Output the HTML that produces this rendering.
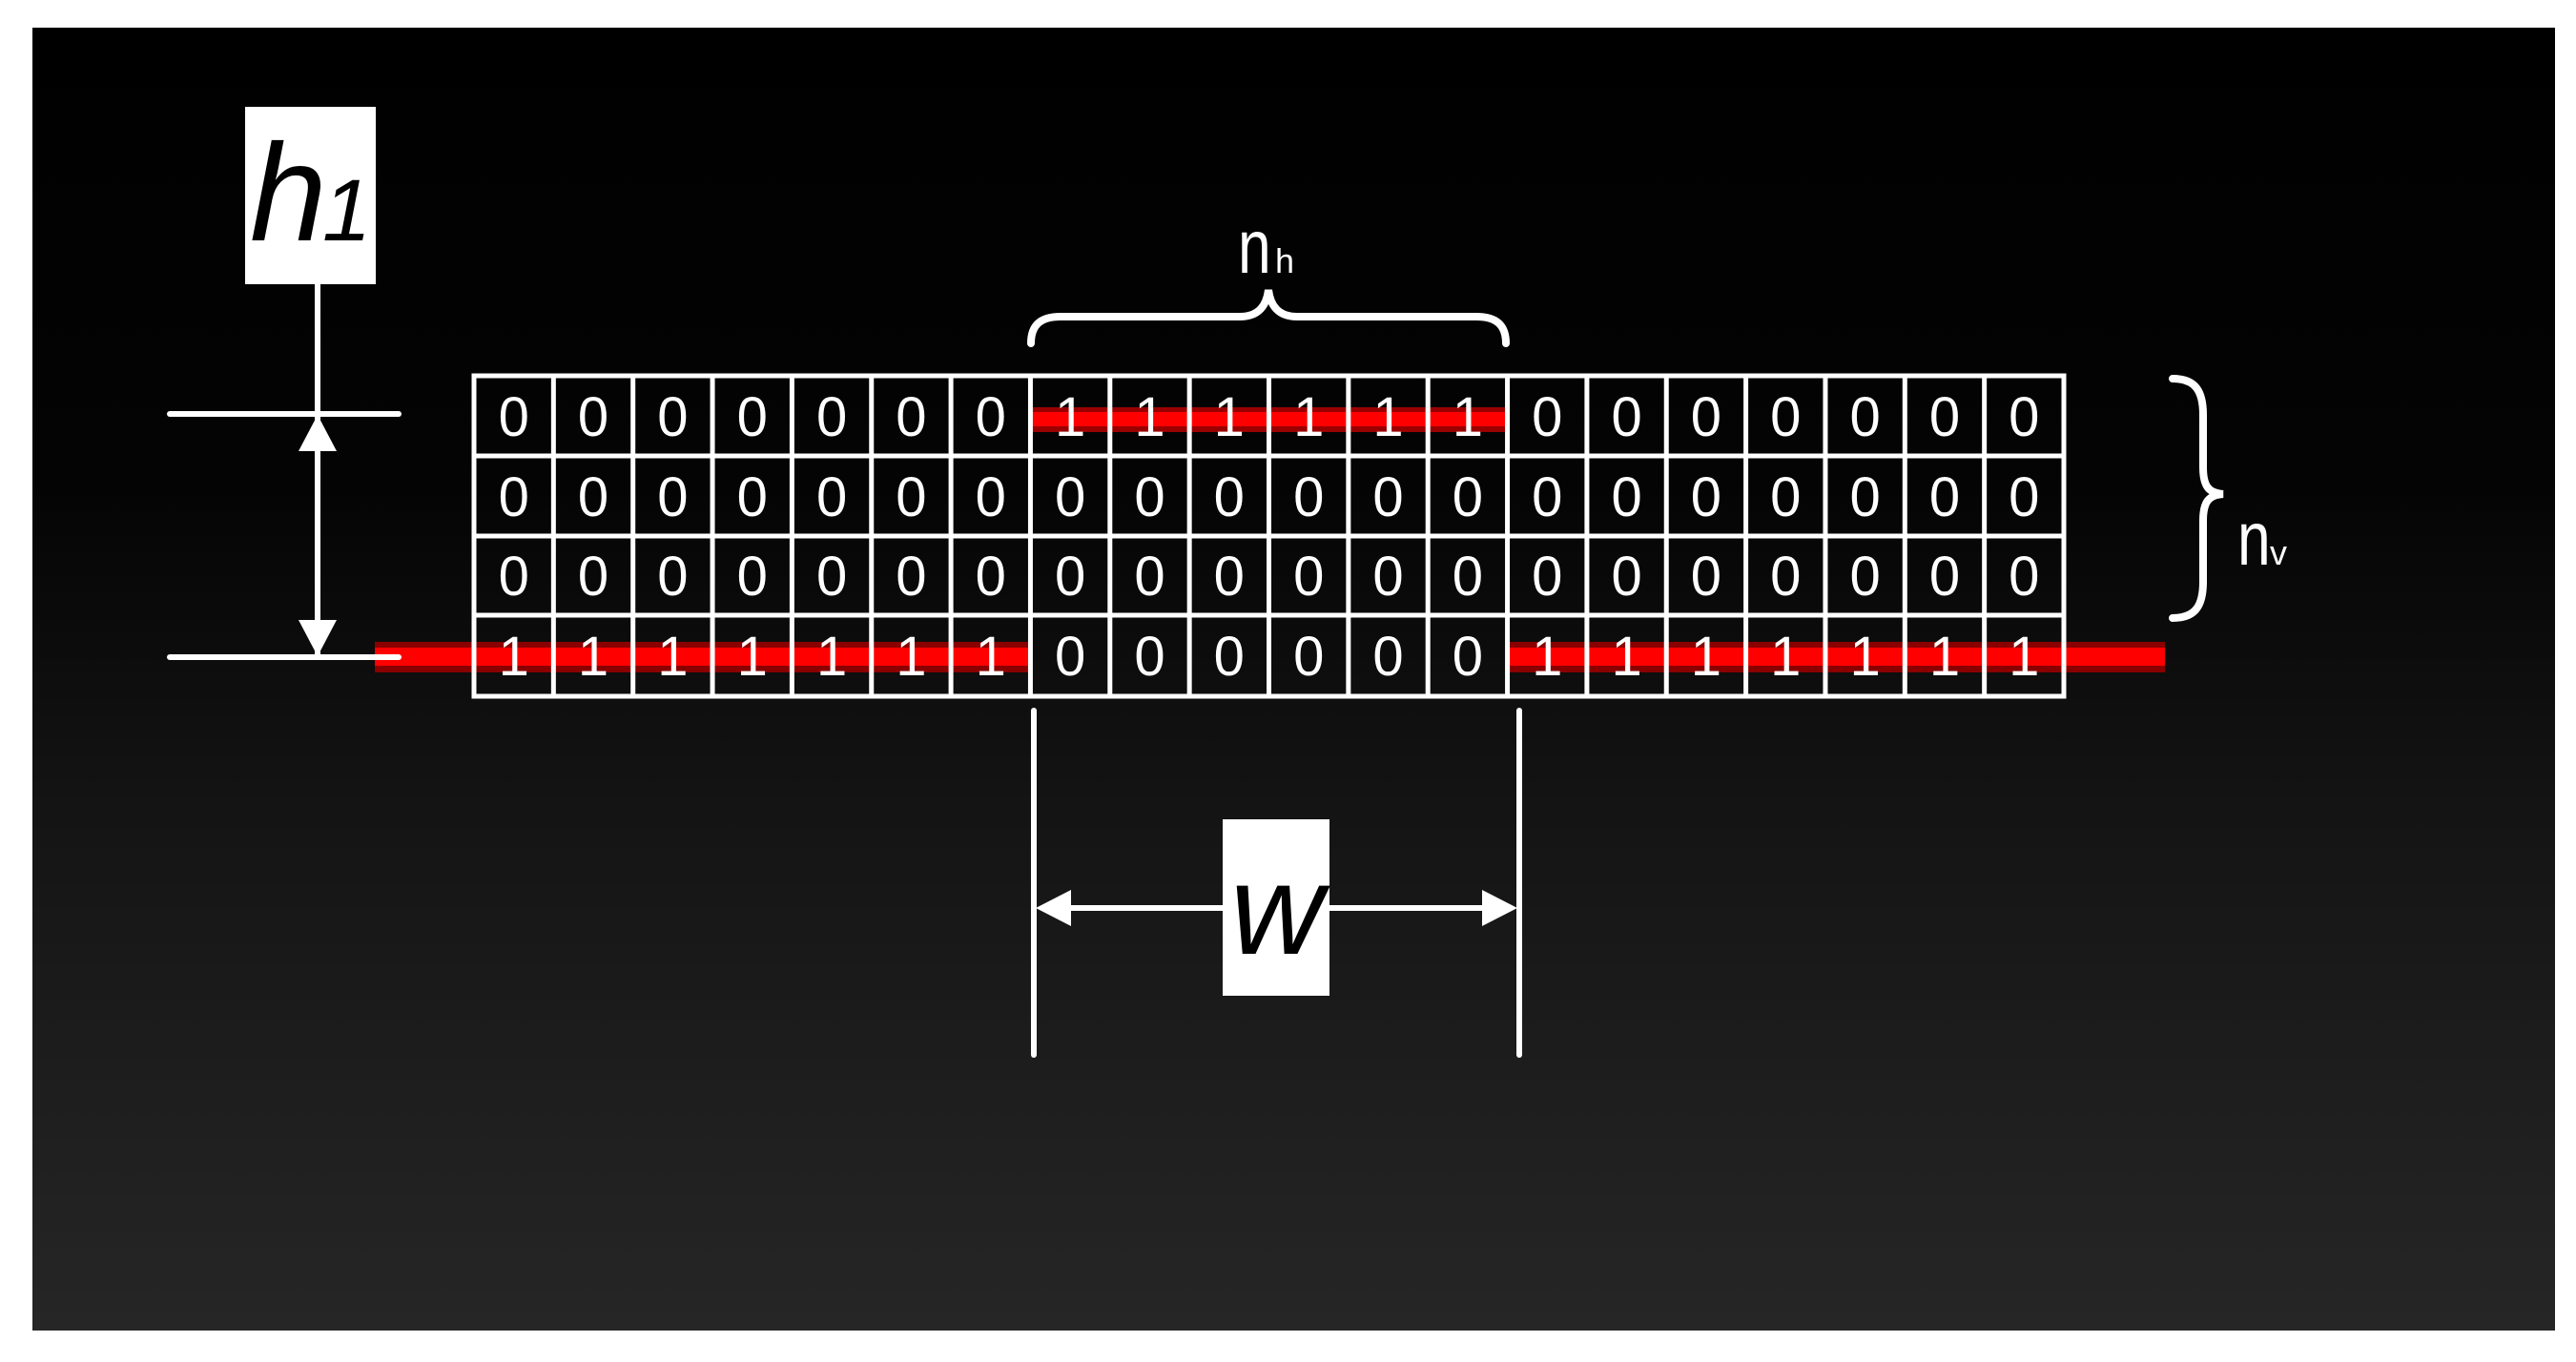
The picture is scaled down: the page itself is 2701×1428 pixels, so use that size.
<!DOCTYPE html>
<html><head><meta charset="utf-8"><style>
html,body{margin:0;padding:0;background:#fff;}
svg{display:block;}
</style></head><body>
<svg width="2701" height="1428" viewBox="0 0 2701 1428" xmlns="http://www.w3.org/2000/svg">
<defs>
<linearGradient id="bg" x1="0" y1="0" x2="0" y2="1">
<stop offset="0" stop-color="#000"/>
<stop offset="0.35" stop-color="#040404"/>
<stop offset="0.6" stop-color="#141414"/>
<stop offset="1" stop-color="#262626"/>
</linearGradient>
</defs>
<rect x="34" y="29" width="2645" height="1366" fill="url(#bg)"/>
<g>
<rect x="1082" y="427" width="497" height="26" fill="#9a0000"/>
<rect x="1082" y="432" width="497" height="15" fill="#ff0000"/>
<rect x="393" y="673" width="688" height="32" fill="#8a0000"/>
<rect x="393" y="679" width="688" height="19" fill="#ff0000"/>
<rect x="1581" y="673" width="689" height="32" fill="#8a0000"/>
<rect x="1581" y="679" width="689" height="19" fill="#ff0000"/>
</g>
<g stroke="#fff" stroke-width="5" fill="none">
<rect x="497" y="394" width="1667" height="336"/>
<line x1="497" y1="478" x2="2164" y2="478"/>
<line x1="497" y1="562" x2="2164" y2="562"/>
<line x1="497" y1="645" x2="2164" y2="645"/>
<line x1="580.35" y1="394" x2="580.35" y2="730"/><line x1="663.7" y1="394" x2="663.7" y2="730"/><line x1="747.05" y1="394" x2="747.05" y2="730"/><line x1="830.4" y1="394" x2="830.4" y2="730"/><line x1="913.75" y1="394" x2="913.75" y2="730"/><line x1="997.1" y1="394" x2="997.1" y2="730"/><line x1="1080.45" y1="394" x2="1080.45" y2="730"/><line x1="1163.8" y1="394" x2="1163.8" y2="730"/><line x1="1247.15" y1="394" x2="1247.15" y2="730"/><line x1="1330.5" y1="394" x2="1330.5" y2="730"/><line x1="1413.85" y1="394" x2="1413.85" y2="730"/><line x1="1497.2" y1="394" x2="1497.2" y2="730"/><line x1="1580.55" y1="394" x2="1580.55" y2="730"/><line x1="1663.9" y1="394" x2="1663.9" y2="730"/><line x1="1747.25" y1="394" x2="1747.25" y2="730"/><line x1="1830.6" y1="394" x2="1830.6" y2="730"/><line x1="1913.95" y1="394" x2="1913.95" y2="730"/><line x1="1997.3" y1="394" x2="1997.3" y2="730"/><line x1="2080.65" y1="394" x2="2080.65" y2="730"/>
</g>
<g fill="#fff" font-family="Liberation Sans, sans-serif" font-size="58" text-anchor="middle">
<text y="457"><tspan x="538.7">0</tspan><tspan x="622">0</tspan><tspan x="705.4">0</tspan><tspan x="788.7">0</tspan><tspan x="872.1">0</tspan><tspan x="955.4">0</tspan><tspan x="1038.8">0</tspan><tspan x="1122.1">1</tspan><tspan x="1205.5">1</tspan><tspan x="1288.8">1</tspan><tspan x="1372.2">1</tspan><tspan x="1455.5">1</tspan><tspan x="1538.9">1</tspan><tspan x="1622.2">0</tspan><tspan x="1705.6">0</tspan><tspan x="1788.9">0</tspan><tspan x="1872.3">0</tspan><tspan x="1955.6">0</tspan><tspan x="2039">0</tspan><tspan x="2122.3">0</tspan></text>
<text y="541"><tspan x="538.7">0</tspan><tspan x="622">0</tspan><tspan x="705.4">0</tspan><tspan x="788.7">0</tspan><tspan x="872.1">0</tspan><tspan x="955.4">0</tspan><tspan x="1038.8">0</tspan><tspan x="1122.1">0</tspan><tspan x="1205.5">0</tspan><tspan x="1288.8">0</tspan><tspan x="1372.2">0</tspan><tspan x="1455.5">0</tspan><tspan x="1538.9">0</tspan><tspan x="1622.2">0</tspan><tspan x="1705.6">0</tspan><tspan x="1788.9">0</tspan><tspan x="1872.3">0</tspan><tspan x="1955.6">0</tspan><tspan x="2039">0</tspan><tspan x="2122.3">0</tspan></text>
<text y="624"><tspan x="538.7">0</tspan><tspan x="622">0</tspan><tspan x="705.4">0</tspan><tspan x="788.7">0</tspan><tspan x="872.1">0</tspan><tspan x="955.4">0</tspan><tspan x="1038.8">0</tspan><tspan x="1122.1">0</tspan><tspan x="1205.5">0</tspan><tspan x="1288.8">0</tspan><tspan x="1372.2">0</tspan><tspan x="1455.5">0</tspan><tspan x="1538.9">0</tspan><tspan x="1622.2">0</tspan><tspan x="1705.6">0</tspan><tspan x="1788.9">0</tspan><tspan x="1872.3">0</tspan><tspan x="1955.6">0</tspan><tspan x="2039">0</tspan><tspan x="2122.3">0</tspan></text>
<text y="708"><tspan x="538.7">1</tspan><tspan x="622">1</tspan><tspan x="705.4">1</tspan><tspan x="788.7">1</tspan><tspan x="872.1">1</tspan><tspan x="955.4">1</tspan><tspan x="1038.8">1</tspan><tspan x="1122.1">0</tspan><tspan x="1205.5">0</tspan><tspan x="1288.8">0</tspan><tspan x="1372.2">0</tspan><tspan x="1455.5">0</tspan><tspan x="1538.9">0</tspan><tspan x="1622.2">1</tspan><tspan x="1705.6">1</tspan><tspan x="1788.9">1</tspan><tspan x="1872.3">1</tspan><tspan x="1955.6">1</tspan><tspan x="2039">1</tspan><tspan x="2122.3">1</tspan></text>
</g>
<g stroke="#fff" stroke-width="6" stroke-linecap="round" fill="none">
<line x1="333" y1="298" x2="333" y2="689"/>
<line x1="178" y1="434" x2="418" y2="434"/>
<line x1="178" y1="689" x2="418" y2="689"/>
</g>
<polygon points="333,435 313,473 353,473" fill="#fff"/>
<polygon points="333,688 313,650 353,650" fill="#fff"/>
<rect x="257" y="112" width="137" height="186" fill="#fff"/>
<text x="262" y="252" font-family="Liberation Sans, sans-serif" font-style="italic" font-size="145" fill="#000">h</text>
<text x="338" y="252" font-family="Liberation Sans, sans-serif" font-style="italic" font-size="92" fill="#000">1</text>
<path d="M1081,360 C1081,340 1092,332 1112,332 L1300,332 C1320,332 1328,320 1330,304 C1332,320 1340,332 1360,332 L1548,332 C1568,332 1579,340 1579,360" stroke="#fff" stroke-width="8" fill="none" stroke-linecap="round"/>
<text x="1298" y="286" font-family="Liberation Sans, sans-serif" font-size="80" fill="#fff" transform="translate(1298 0) scale(0.78 1) translate(-1298 0)">n</text>
<text x="1337" y="286" font-family="Liberation Sans, sans-serif" font-size="36" fill="#fff">h</text>
<path d="M2278,397 C2302,397 2310,410 2310,435 L2310,490 C2310,510 2316,517 2331,518 C2316,519 2310,526 2310,546 L2310,610 C2310,635 2302,648 2278,648" stroke="#fff" stroke-width="8" fill="none" stroke-linecap="round"/>
<text x="2346" y="592" font-family="Liberation Sans, sans-serif" font-size="80" fill="#fff" transform="translate(2346 0) scale(0.78 1) translate(-2346 0)">n</text>
<text x="2380" y="592" font-family="Liberation Sans, sans-serif" font-size="36" fill="#fff">v</text>
<g stroke="#fff" stroke-width="6" stroke-linecap="round">
<line x1="1084" y1="745" x2="1084" y2="1106"/>
<line x1="1593" y1="745" x2="1593" y2="1106"/>
<line x1="1110" y1="952" x2="1570" y2="952"/>
</g>
<polygon points="1086,952 1123,933 1123,971" fill="#fff"/>
<polygon points="1591,952 1554,933 1554,971" fill="#fff"/>
<rect x="1282" y="859" width="112" height="185" fill="#fff"/>
<text x="1290" y="1000" font-family="Liberation Sans, sans-serif" font-style="italic" font-size="135" fill="#000">w</text>
</svg>
</body></html>
